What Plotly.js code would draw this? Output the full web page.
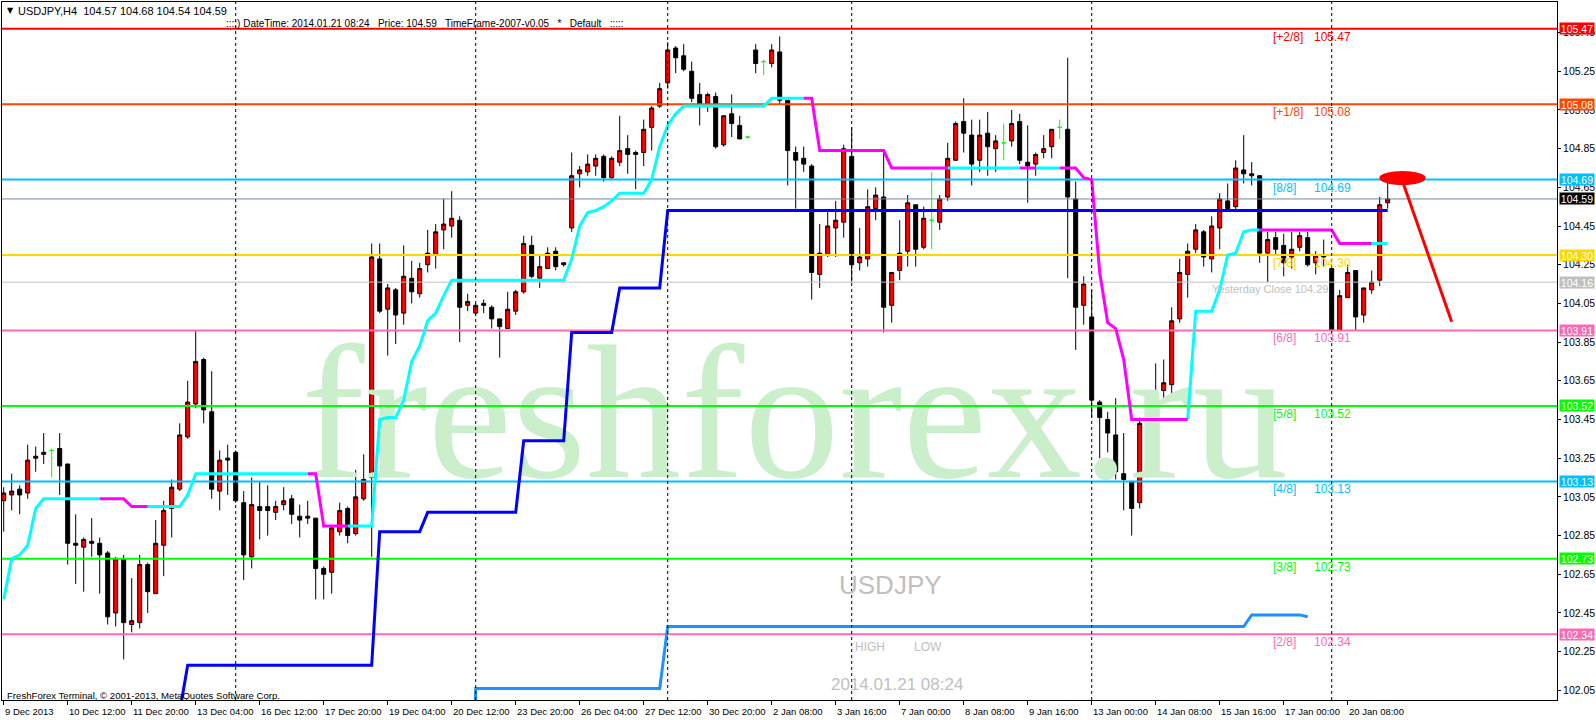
<!DOCTYPE html>
<html><head><meta charset="utf-8">
<script src="https://cdn.plot.ly/plotly-3.0.1.min.js"></script>
<style>html,body{margin:0;padding:0;background:#fff;overflow:hidden}#chart{width:1596px;height:720px}</style>
</head><body><div id="chart"></div>
<script>
// ---- candle data, bar 0 = 9 Dec 2013 04:00 (H4) ----
const openP = [
103.03,103.06,103.09,103.07,103.25,103.27,103.29,103.30,103.22,102.81,
102.79,102.82,102.81,102.76,102.45,102.73,102.39,102.40,102.70,102.55,
102.80,102.99,103.09,103.36,103.53,103.76,103.49,103.08,103.25,103.28,
103.02,102.74,103.00,103.00,102.97,103.01,103.04,102.95,102.94,102.94,
102.68,102.66,102.87,102.99,102.86,103.04,103.15,104.28,104.02,104.12,
104.00,104.18,104.10,104.25,104.30,104.43,104.45,104.48,104.04,104.00,
104.05,104.03,103.97,103.92,104.01,104.11,104.35,104.18,104.23,104.32,
104.25,104.44,104.72,104.73,104.76,104.81,104.70,104.78,104.85,104.83,
104.83,104.96,105.07,105.19,105.37,105.33,105.25,105.13,105.08,105.12,
104.87,105.03,104.97,104.91,105.36,105.30,105.29,105.35,105.10,104.83,
104.80,104.76,104.20,104.30,104.44,104.47,104.81,104.26,104.28,104.54,
104.60,104.04,104.22,104.32,104.56,104.34,104.48,104.47,104.60,104.79,
104.99,104.92,104.79,104.93,104.85,104.88,104.89,104.99,104.78,104.77,
104.83,104.86,104.96,104.95,104.59,104.04,103.98,103.54,103.45,103.37,
103.17,103.13,103.02,103.44,103.29,103.60,103.63,103.97,104.20,104.33,
104.42,104.28,104.44,104.58,104.55,104.74,104.71,104.71,104.31,104.39,
104.35,104.29,104.34,104.39,104.26,104.30,104.23,103.91,104.08,104.22,
103.99,104.12,104.17,104.57];
const highP = [
103.10,103.17,103.11,103.32,103.31,103.38,103.30,103.38,103.22,102.96,
102.84,102.94,102.84,102.77,102.74,102.75,102.63,102.75,102.71,102.93,
103.03,103.14,103.43,103.65,103.91,103.77,103.70,103.29,103.32,103.29,
103.08,103.15,103.13,103.11,103.03,103.10,103.06,103.01,103.03,102.94,
102.69,102.89,103.02,103.00,103.19,103.27,104.36,104.36,104.15,104.13,
104.35,104.27,104.26,104.43,104.46,104.59,104.63,104.50,104.10,104.05,
104.07,104.04,103.97,104.11,104.12,104.40,104.40,104.30,104.34,104.34,
104.26,104.83,104.76,104.82,104.82,104.82,104.81,105.02,104.92,104.84,
105.00,105.07,105.19,105.40,105.38,105.39,105.30,105.19,105.14,105.14,
105.02,105.13,105.02,104.91,105.39,105.31,105.39,105.43,105.10,104.86,
104.86,104.77,104.46,104.53,104.58,104.87,104.96,104.44,104.64,104.65,
104.83,104.21,104.48,104.61,104.56,104.55,104.73,104.61,104.88,104.99,
105.11,105.00,105.00,105.04,104.92,104.98,105.05,105.03,104.97,104.83,
104.92,104.95,105.00,105.32,104.68,104.19,104.12,103.55,103.49,103.56,
103.38,103.13,103.46,103.52,103.74,103.76,104.03,104.28,104.36,104.46,
104.43,104.50,104.62,104.67,104.79,104.92,104.78,104.71,104.42,104.42,
104.41,104.42,104.42,104.42,104.32,104.38,104.23,104.12,104.25,104.22,
104.13,104.22,104.60,104.68];
const lowP = [
102.87,102.98,102.96,103.04,103.18,103.22,103.15,103.06,102.70,102.60,
102.56,102.74,102.55,102.39,102.38,102.21,102.35,102.37,102.45,102.55,
102.64,102.84,103.08,103.35,103.51,103.43,103.04,102.98,103.06,103.02,
102.62,102.68,102.83,102.85,102.93,102.98,102.91,102.84,102.91,102.52,
102.52,102.55,102.85,102.81,102.85,103.03,102.74,104.00,103.78,103.84,
103.94,104.05,104.08,104.21,104.23,104.33,104.39,103.85,104.01,103.99,
104.00,103.92,103.77,103.92,103.99,104.10,104.18,104.13,104.23,104.22,
104.24,104.42,104.65,104.71,104.71,104.68,104.69,104.76,104.72,104.64,
104.76,104.84,105.06,105.16,105.24,105.25,105.09,104.97,105.04,104.85,
104.86,104.91,104.90,104.90,105.24,105.23,105.27,105.08,104.66,104.54,
104.73,104.07,104.13,104.29,104.29,104.39,104.16,104.22,104.24,104.48,
103.90,103.95,104.17,104.24,104.24,104.33,104.33,104.43,104.58,104.79,
104.83,104.66,104.73,104.71,104.73,104.79,104.86,104.77,104.57,104.71,
104.80,104.80,104.90,104.18,103.81,103.94,103.46,103.25,103.28,103.14,
102.98,102.85,102.99,103.23,103.28,103.53,103.58,103.95,104.08,104.31,
104.24,104.21,104.33,104.54,104.53,104.67,104.66,104.26,104.16,104.30,
104.19,104.23,104.32,104.24,104.20,104.24,103.90,103.91,104.08,103.91,
103.95,104.10,104.14,104.54];
const closeP = [
103.07,103.08,103.06,103.24,103.26,103.28,103.29,103.21,102.81,102.80,
102.83,102.81,102.75,102.43,102.73,102.40,102.41,102.70,102.56,102.81,
102.98,103.10,103.37,103.54,103.75,103.50,103.09,103.24,103.24,103.03,
102.75,103.01,102.98,102.98,103.00,103.03,102.96,102.93,102.95,102.68,
102.65,102.89,102.98,102.85,103.05,103.14,104.29,104.01,104.13,103.99,
104.19,104.11,104.23,104.31,104.42,104.46,104.49,104.03,104.06,104.04,
104.04,103.97,103.93,104.02,104.11,104.36,104.19,104.24,104.31,104.24,
104.26,104.71,104.74,104.77,104.80,104.70,104.80,104.84,104.82,104.82,
104.95,105.06,105.16,105.36,105.32,105.26,105.11,105.08,105.13,104.86,
105.02,104.98,104.90,104.91,105.29,105.30,105.36,105.10,104.84,104.79,
104.77,104.21,104.31,104.45,104.48,104.85,104.25,104.29,104.55,104.61,
104.03,104.21,104.31,104.57,104.33,104.49,104.48,104.59,104.80,104.98,
104.93,104.77,104.92,104.86,104.89,104.88,104.98,104.79,104.76,104.82,
104.85,104.95,104.96,104.60,104.03,104.15,103.55,103.46,103.38,103.18,
103.14,102.99,103.43,103.28,103.59,103.64,103.96,104.21,104.32,104.43,
104.29,104.45,104.59,104.54,104.75,104.72,104.72,104.31,104.38,104.33,
104.26,104.33,104.40,104.25,104.30,104.29,103.91,104.09,104.21,103.98,
104.13,104.16,104.56,104.59];

// ---- trailing line (cyan = up, magenta = down), one value per bar ----
const trendLine = [
102.52,102.73,102.75,102.80,102.99,103.04,103.04,103.04,103.04,103.04,
103.04,103.04,103.04,103.04,103.04,103.04,103.00,103.00,103.00,103.00,
103.00,103.00,103.00,103.06,103.17,103.17,103.17,103.17,103.17,103.17,
103.17,103.17,103.17,103.17,103.17,103.17,103.17,103.17,103.17,103.17,
102.90,102.90,102.90,102.90,102.90,102.90,102.90,103.45,103.46,103.46,
103.55,103.75,103.83,103.96,104.00,104.09,104.17,104.17,104.17,104.17,
104.17,104.17,104.17,104.17,104.17,104.17,104.17,104.17,104.17,104.17,
104.17,104.28,104.45,104.52,104.53,104.55,104.58,104.62,104.62,104.62,
104.62,104.69,104.86,104.97,105.03,105.07,105.07,105.07,105.07,105.07,
105.07,105.07,105.07,105.07,105.07,105.07,105.11,105.11,105.11,105.11,
105.11,105.11,104.84,104.84,104.84,104.84,104.84,104.84,104.84,104.84,
104.84,104.75,104.75,104.75,104.75,104.75,104.75,104.75,104.75,104.75,
104.75,104.75,104.75,104.75,104.75,104.75,104.75,104.75,104.75,104.75,
104.75,104.75,104.75,104.75,104.75,104.70,104.69,104.21,103.95,103.92,
103.76,103.45,103.45,103.45,103.45,103.45,103.45,103.45,103.45,104.01,
104.01,104.01,104.12,104.30,104.31,104.42,104.43,104.43,104.43,104.43,
104.43,104.43,104.43,104.43,104.43,104.43,104.43,104.36,104.36,104.36,
104.36,104.36,104.36,104.36];
// bar ranges where the trailing line is in its down (magenta) state
const trendDownRuns = [[13,18],[39,43],[101,118],[128,129],[133,148],[158,171]];

// ---- dark blue step line, starts at bar 22 ----
const blueStart = 22;
const blueLine = [
101.94,
102.18,102.18,102.18,102.18,102.18,102.18,102.18,102.18,102.18,102.18,
102.18,102.18,102.18,102.18,102.18,102.18,102.18,102.18,102.18,102.18,
102.18,102.18,102.18,102.18,
102.87,102.87,102.87,102.87,102.87,102.87,
102.97,102.97,102.97,102.97,102.97,102.97,102.97,102.97,102.97,102.97,102.97,102.97,
103.34,103.34,103.34,103.34,103.34,103.34,
103.90,103.90,103.90,103.90,103.90,103.90,
104.13,104.13,104.13,104.13,104.13,104.13,
104.53,104.53,104.53,104.53,104.53,104.53,104.53,104.53,104.53,104.53,
104.53,104.53,104.53,104.53,104.53,104.53,104.53,104.53,104.53,104.53,
104.53,104.53,104.53,104.53,104.53,104.53,104.53,104.53,104.53,104.53,
104.53,104.53,104.53,104.53,104.53,104.53,104.53,104.53,104.53,104.53,
104.53,104.53,104.53,104.53,104.53,104.53,104.53,104.53,104.53,104.53,
104.53,104.53,104.53,104.53,104.53,104.53,104.53,104.53,104.53,104.53,
104.53,104.53,104.53,104.53,104.53,104.53,104.53,104.53,104.53,104.53,
104.53,104.53,104.53,104.53,104.53,104.53,104.53,104.53,104.53,104.53,
104.53,104.53,104.53,104.53,104.53,104.53,104.53,104.53,104.53,104.53,
104.53];

// ---- light blue step line, starts at bar 58 ----
const lightStart = 58;
const lightLine = [
100.50,
102.06,102.06,102.06,102.06,102.06,102.06,102.06,102.06,102.06,102.06,
102.06,102.06,102.06,102.06,102.06,102.06,102.06,102.06,102.06,102.06,
102.06,102.06,102.06,102.06,
102.38,102.38,102.38,102.38,102.38,102.38,102.38,102.38,102.38,102.38,
102.38,102.38,102.38,102.38,102.38,102.38,102.38,102.38,102.38,102.38,
102.38,102.38,102.38,102.38,102.38,102.38,102.38,102.38,102.38,102.38,
102.38,102.38,102.38,102.38,102.38,102.38,102.38,102.38,102.38,102.38,
102.38,102.38,102.38,102.38,102.38,102.38,102.38,102.38,102.38,102.38,
102.38,102.38,102.38,102.38,102.38,102.38,102.38,102.38,102.38,102.38,
102.38,102.38,102.38,102.38,102.38,102.38,102.38,102.38,102.38,102.38,
102.38,102.38,102.38,
102.44,102.44,102.44,102.44,102.44,102.44,102.44,
102.43];

// ---- Murrey math levels ----
const levelValues = [105.47, 105.08, 104.69, 104.30, 103.91, 103.52, 103.13, 102.73, 102.34];
const levelNames  = ['[+2/8]','[+1/8]','[8/8]','[7/8]','[6/8]','[5/8]','[4/8]','[3/8]','[2/8]'];
const levelColors = ['#FF0000','#FF4500','#00BFFF','#FFD700','#FF69B4','#00FF00','#00BFFF','#00FF00','#FF69B4'];
const bidPrice = 104.59;
const prevLevel = 104.16;
const yesterdayClose = 104.29;

// ---- time axis ----
const separatorBars = [29, 59, 83, 106, 136, 166];
const tickBars = [0,8,16,24,32,40,48,56,64,72,80,88,96,104,112,120,128,136,144,152,160,168];
const tickLabels = ['9 Dec 2013','10 Dec 12:00','11 Dec 20:00','13 Dec 04:00','16 Dec 12:00','17 Dec 20:00',
  '19 Dec 04:00','20 Dec 12:00','23 Dec 20:00','26 Dec 04:00','27 Dec 12:00','30 Dec 20:00','2 Jan 08:00',
  '3 Jan 16:00','7 Jan 00:00','8 Jan 08:00','9 Jan 16:00','13 Jan 00:00','14 Jan 08:00','15 Jan 16:00',
  '17 Jan 00:00','20 Jan 08:00'];

// ---------------------------------------------------------------
const UI_FONT = '"Liberation Sans", Arial, sans-serif';
const ARIAL = '"Liberation Sans", Arial, sans-serif';
const W = 1596, H = 720, ML = 2, MR = 39, MT = 2, MB = 20;
const PX = p => (p - ML) / (W - ML - MR);
const PY = p => (H - MB - p) / (H - MT - MB);

const bars = openP.map((_, i) => i);
const isDoji = i => openP[i] === closeP[i];
const normIdx = bars.filter(i => !isDoji(i));
const dojiIdx = bars.filter(i => isDoji(i));
const pick = (arr, idx) => idx.map(i => arr[i]);

const isDown = i => trendDownRuns.some(r => i >= r[0] && i <= r[1]);
const inRange = i => i >= 0 && i < trendLine.length;
const upVals = trendLine.map((v, i) => ((inRange(i) && !isDown(i)) || (inRange(i + 1) && !isDown(i + 1))) ? v : null);
const dnVals = trendLine.map((v, i) => (isDown(i) || (inRange(i + 1) && isDown(i + 1))) ? v : null);

const traces = [];
// watermark (below candles)
traces.push({type:'scatter', mode:'text', x:[98.85], y:[103.40], text:['freshforex.ru'],
  textposition:'middle center', textfont:{family:'"Liberation Serif", "Times New Roman", serif', size:190, color:'#CBEFCB'},
  hoverinfo:'skip', showlegend:false, cliponaxis:false});
// candles
traces.push({type:'candlestick', x:normIdx, open:pick(openP,normIdx), high:pick(highP,normIdx),
  low:pick(lowP,normIdx), close:pick(closeP,normIdx),
  increasing:{line:{color:'#000000', width:1}, fillcolor:'#FF0000'},
  decreasing:{line:{color:'#000000', width:1}, fillcolor:'#000000'},
  whiskerwidth:0, hoverinfo:'skip', showlegend:false});
traces.push({type:'candlestick', x:dojiIdx, open:pick(openP,dojiIdx), high:pick(highP,dojiIdx),
  low:pick(lowP,dojiIdx), close:pick(closeP,dojiIdx),
  increasing:{line:{color:'#00FF00', width:1}, fillcolor:'#00FF00'},
  decreasing:{line:{color:'#00FF00', width:1}, fillcolor:'#00FF00'},
  whiskerwidth:0, hoverinfo:'skip', showlegend:false});
// horizontal levels
const XL = [-5, 200];
levelValues.forEach((v, i) => traces.push({type:'scatter', mode:'lines', x:XL, y:[v, v],
  line:{color:levelColors[i], width:2}, hoverinfo:'skip', showlegend:false}));
traces.push({type:'scatter', mode:'lines', x:XL, y:[bidPrice, bidPrice], line:{color:'#778899', width:1}, hoverinfo:'skip', showlegend:false});
traces.push({type:'scatter', mode:'lines', x:XL, y:[prevLevel, prevLevel], line:{color:'#C0C0C0', width:1}, hoverinfo:'skip', showlegend:false});
// indicator lines
traces.push({type:'scatter', mode:'lines', x:lightLine.map((_, i) => i + lightStart), y:lightLine,
  line:{color:'#1E90FF', width:3}, hoverinfo:'skip', showlegend:false});
traces.push({type:'scatter', mode:'lines', x:blueLine.map((_, i) => i + blueStart), y:blueLine,
  line:{color:'#0000FF', width:3}, hoverinfo:'skip', showlegend:false});
traces.push({type:'scatter', mode:'lines', x:bars, y:upVals, connectgaps:false,
  line:{color:'#00FFFF', width:3}, hoverinfo:'skip', showlegend:false});
traces.push({type:'scatter', mode:'lines', x:bars, y:dnVals, connectgaps:false,
  line:{color:'#FF00FF', width:3}, hoverinfo:'skip', showlegend:false});

// shapes
const shapes = separatorBars.map(b => ({type:'line', xref:'x', yref:'paper', x0:b, x1:b, y0:0, y1:1,
  line:{color:'#000000', width:1, dash:'3px,3px'}, layer:'above'}));
shapes.push({type:'circle', xref:'x', yref:'y', x0:171.95, x1:177.75, y0:104.662, y1:104.735,
  fillcolor:'#FF0000', line:{width:0}, layer:'above'});
shapes.push({type:'line', xref:'x', yref:'y', x0:174.95, y0:104.67, x1:181.0, y1:103.955,
  line:{color:'#FF0000', width:3}, layer:'above'});

// annotations
const ann = [];
// time labels, left-aligned at their tick like the terminal does
tickBars.forEach((b, i) => ann.push({xref:'x', yref:'paper', x:b, y:0, xanchor:'left', yanchor:'top',
  yshift:-4, xshift:-1, showarrow:false, text:tickLabels[i], font:{family:UI_FONT, size:9.5, color:'#000000'}}));
levelValues.forEach((v, i) => {
  ann.push({xref:'x', yref:'y', x:158.4, y:v, xanchor:'left', yanchor:'middle', yshift:-8, showarrow:false,
    text:levelNames[i], font:{family:ARIAL, size:12, color:levelColors[i]}});
  ann.push({xref:'x', yref:'y', x:163.5, y:v, xanchor:'left', yanchor:'middle', yshift:-8, showarrow:false,
    text:v.toFixed(2), font:{family:ARIAL, size:12, color:levelColors[i]}});
});
ann.push({xref:'x', yref:'y', x:150.8, y:prevLevel, xanchor:'left', yanchor:'middle', yshift:-7, showarrow:false,
  text:'Yesterday Close ' + yesterdayClose.toFixed(2), font:{family:ARIAL, size:11, color:'#C0C0C0'}});
// right-axis price boxes
const boxVals = levelValues.concat([bidPrice, prevLevel]);
const boxCols = levelColors.concat(['#000000', '#C0C0C0']);
boxVals.forEach((v, i) => ann.push({xref:'paper', yref:'y', x:1, y:v, xanchor:'left', yanchor:'middle', xshift:2,
  showarrow:false, text:v.toFixed(2), bgcolor:boxCols[i], width:34, height:11, borderpad:0,
  font:{family:UI_FONT, size:10.5, color:'#FFFFFF'}}));
// header & footer texts
ann.push({xref:'paper', yref:'paper', x:PX(5), y:PY(10.5), xanchor:'left', yanchor:'middle', showarrow:false,
  text:'▼', font:{family:'DejaVu Sans, sans-serif', size:8, color:'#000000'}});
ann.push({xref:'paper', yref:'paper', x:PX(16), y:PY(10.5), xanchor:'left', yanchor:'middle', showarrow:false,
  text:'USDJPY,H4  ' + [openP[173], highP[173], lowP[173], closeP[173]].map(v => v.toFixed(2)).join(' '),
  font:{family:UI_FONT, size:11, color:'#000000'}});
ann.push({xref:'paper', yref:'paper', x:PX(224), y:PY(23.5), xanchor:'left', yanchor:'middle', showarrow:false,
  text:'::::) DateTime: 2014.01.21 08:24   Price: ' + bidPrice.toFixed(2) + '   TimeFrame-2007-v0.05   *   Default   :::::',
  font:{family:UI_FONT, size:10, color:'#000000'}});
ann.push({xref:'paper', yref:'paper', x:PX(5), y:PY(695.5), xanchor:'left', yanchor:'middle', showarrow:false,
  text:'FreshForex Terminal, © 2001-2013, MetaQuotes Software Corp.', font:{family:UI_FONT, size:9.6, color:'#000000'}});
ann.push({xref:'paper', yref:'paper', x:PX(890.5), y:PY(585), xanchor:'center', yanchor:'middle', showarrow:false,
  text:'USDJPY', font:{family:ARIAL, size:26, color:'#C0C0C0'}});
ann.push({xref:'paper', yref:'paper', x:PX(853), y:PY(647), xanchor:'left', yanchor:'middle', showarrow:false,
  text:'HIGH', font:{family:ARIAL, size:12, color:'#C0C0C0'}});
ann.push({xref:'paper', yref:'paper', x:PX(912), y:PY(647), xanchor:'left', yanchor:'middle', showarrow:false,
  text:'LOW', font:{family:ARIAL, size:12, color:'#C0C0C0'}});
ann.push({xref:'paper', yref:'paper', x:PX(896.5), y:PY(684), xanchor:'center', yanchor:'middle', showarrow:false,
  text:'2014.01.21 08:24', font:{family:ARIAL, size:17, color:'#C0C0C0'}});

const layout = {
  width:W, height:H, margin:{l:ML, r:MR, t:MT, b:MB, pad:0},
  paper_bgcolor:'#FFFFFF', plot_bgcolor:'#FFFFFF', showlegend:false, hovermode:false,
  boxgap:0.5, boxgroupgap:0,
  xaxis:{type:'linear', range:[-0.2125, 194.1625], showgrid:false, zeroline:false,
    showline:true, linecolor:'#000000', linewidth:1, mirror:true,
    tickmode:'array', tickvals:tickBars, ticks:'outside', ticklen:4, tickcolor:'#000000',
    showticklabels:false, rangeslider:{visible:false}, fixedrange:true},
  yaxis:{side:'right', range:[102.0, 105.608], showgrid:false, zeroline:false,
    showline:true, linecolor:'#000000', linewidth:1, mirror:true,
    tickmode:'linear', tick0:102.05, dtick:0.2, tickformat:'.2f', ticks:'outside', ticklen:3, tickcolor:'#000000',
    tickfont:{family:UI_FONT, size:10.5, color:'#000000'}, fixedrange:true},
  shapes:shapes, annotations:ann
};
Plotly.newPlot('chart', traces, layout, {displayModeBar:false, staticPlot:true});
</script></body></html>
